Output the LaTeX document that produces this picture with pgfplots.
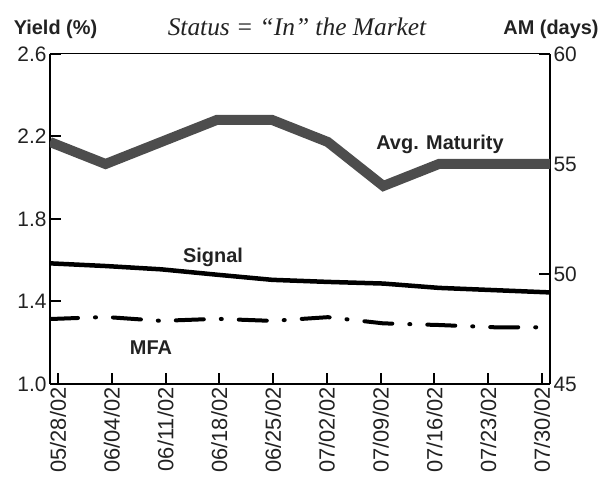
\documentclass[border=0pt]{standalone}
\usepackage{pgfplots}
\pgfplotsset{compat=1.18}
\usepackage{fontspec}
\setmainfont{Liberation Sans}
\newfontfamily\seriffont{Liberation Serif}
\definecolor{amgray}{HTML}{4D4D4D}
\definecolor{txt}{HTML}{222222}

\begin{document}
\begin{tikzpicture}[x=1bp,y=1bp]
\pgfplotsset{
 common/.style={scale only axis, width=500bp, height=330bp, at={(0,0)}, anchor=south west,
 xmin=0, xmax=9, clip=true,
 /pgf/number format/assume math mode=true,
 tick align=inside, major tick length=11bp,
 every tick/.style={line width=2bp, black},
 axis line style={line width=2.6bp, -},
 ticklabel style={font=\fontsize{21}{25}\selectfont, text=txt},
 }
}
\begin{axis}[common,
 axis x line*=bottom, axis y line*=left,
 ymin=1.0, ymax=2.6, ytick={1.0,1.4,1.8,2.2,2.6},
 yticklabel style={/pgf/number format/.cd, fixed, fixed zerofill, precision=1, /tikz/.cd},
 xtick={0.144,1.112,2.08,3.048,4.016,4.984,5.952,6.92,7.888,8.856},
 xticklabels={05/28/02,06/04/02,06/11/02,06/18/02,06/25/02,07/02/02,07/09/02,07/16/02,07/23/02,07/30/02},
 xticklabel style={rotate=90, anchor=east, font=\fontsize{22}{26}\selectfont},
]
\addplot[black, line width=4.5bp] coordinates {
(0,1.585) (1,1.572) (2,1.556) (3,1.530) (4,1.505) (5,1.495) (6,1.487) (7,1.466) (8,1.455) (9,1.444)};
\addplot[black, line width=4bp, line cap=round, dash pattern=on 28bp off 17bp on 1bp off 17bp] coordinates {
(0,1.315) (1,1.325) (2,1.306) (3,1.316) (4,1.306) (5,1.324) (6,1.294) (7,1.286) (8,1.275) (9,1.275)};
\end{axis}
\begin{axis}[common,
 axis y line*=right, axis x line=none,
 ymin=45, ymax=60, ytick={45,50,55,60}, xtick=\empty,
]
\addplot[amgray, line width=10bp] coordinates {
(0,56) (1,55) (2,56) (3,57) (4,57) (5,56) (6,54) (7,55) (8,55) (9,55)};
\end{axis}
\draw[line width=1bp] (0,330) -- (500,330);
\node[font=\bfseries\fontsize{20}{24}\selectfont, text=txt] at (390,240) {Avg. Maturity};
\node[font=\bfseries\fontsize{20}{24}\selectfont, text=txt] at (163,127) {Signal};
\node[font=\bfseries\fontsize{20}{24}\selectfont, text=txt] at (101,36) {MFA};
\node[font=\bfseries\fontsize{20}{24}\selectfont, text=txt, anchor=base] at (5.5,349) {Yield (\%)};
\node[font=\bfseries\fontsize{20}{24}\selectfont, text=txt, anchor=base] at (501,349) {AM (days)};
\node[font=\seriffont\itshape\fontsize{25.5}{30}\selectfont, text=txt, anchor=base] at (247,348) {Status = “In” the Market};
\pgfresetboundingbox
\path[use as bounding box] (-50,-98) rectangle (548,384);
\end{tikzpicture}
\end{document}
